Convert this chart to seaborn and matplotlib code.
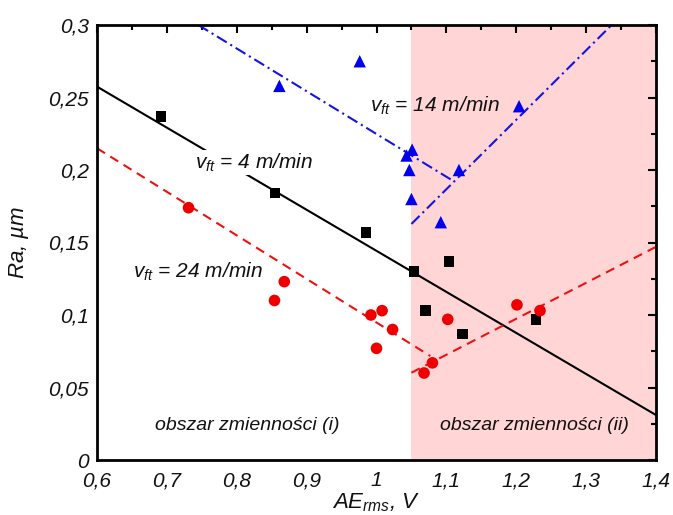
import matplotlib
matplotlib.use("Agg")
import matplotlib.pyplot as plt
import seaborn as sns
from matplotlib.ticker import MultipleLocator, FuncFormatter
from matplotlib import font_manager

sns.set_theme(style="white")

fams = {f.name for f in font_manager.fontManager.ttflist}
FONT = "Liberation Sans Narrow" if "Liberation Sans Narrow" in fams else "Liberation Sans"
plt.rcParams['font.family'] = [FONT, 'DejaVu Sans']
plt.rcParams['mathtext.fontset'] = 'custom'
plt.rcParams['mathtext.it'] = FONT + ':italic'
plt.rcParams['mathtext.rm'] = FONT + ':italic'

# ---- data ----
x_v4 = [0.692, 0.855, 0.985, 1.054, 1.104, 1.070, 1.123, 1.228]
y_v4 = [0.237, 0.184, 0.157, 0.130, 0.137, 0.103, 0.087, 0.097]

x_v24 = [0.731, 0.868, 0.854, 0.992, 1.008, 1.023, 1.000, 1.068, 1.080, 1.102, 1.201, 1.234]
y_v24 = [0.174, 0.123, 0.110, 0.100, 0.103, 0.090, 0.077, 0.060, 0.067, 0.097, 0.107, 0.103]

x_v14 = [0.861, 0.976, 1.051, 1.043, 1.047, 1.050, 1.092, 1.118, 1.204]
y_v14 = [0.258, 0.275, 0.214, 0.210, 0.200, 0.180, 0.164, 0.200, 0.244]

# fitted trend lines (end points)
fit_v4_x = [0.6, 1.4]
fit_v4_y = [0.2575, 0.031]
fit_v24a_x = [0.6, 1.077]
fit_v24a_y = [0.215, 0.0717]
fit_v24b_x = [1.05, 1.4]
fit_v24b_y = [0.0602, 0.147]
fit_v14a_x = [0.745, 1.110]
fit_v14a_y = [0.300, 0.1924]
fit_v14b_x = [1.05, 1.3365]
fit_v14b_y = [0.1628, 0.300]

region_split = 1.05

fig = plt.figure(figsize=(6.73, 5.15), dpi=100)
ax = fig.add_axes([97/673, 1-460/515, (656-97)/673, (460-25)/515])

ax.axvspan(region_split, 1.4, color=(1.0, 0.835, 0.835), zorder=0, lw=0)

RED = "#ee1111"
BLUE = "#1414e6"
dash = (0, (4.5, 3))
dashdot = (0, (5.5, 2, 1, 2))
sns.lineplot(x=fit_v4_x, y=fit_v4_y, ax=ax, color="black", lw=1.5, zorder=2)
sns.lineplot(x=fit_v24a_x, y=fit_v24a_y, ax=ax, color=RED, lw=1.5, zorder=2, linestyle=dash)
sns.lineplot(x=fit_v24b_x, y=fit_v24b_y, ax=ax, color=RED, lw=1.5, zorder=2, linestyle=dash)
sns.lineplot(x=fit_v14a_x, y=fit_v14a_y, ax=ax, color=BLUE, lw=1.5, zorder=2, linestyle=dashdot)
sns.lineplot(x=fit_v14b_x, y=fit_v14b_y, ax=ax, color=BLUE, lw=1.5, zorder=2, linestyle=dashdot)

sns.scatterplot(x=x_v4, y=y_v4, ax=ax, marker="s", s=55, color="black", edgecolor="none", zorder=3)
sns.scatterplot(x=x_v24, y=y_v24, ax=ax, marker="o", s=70, color="#ee0000", edgecolor="none", zorder=3)
sns.scatterplot(x=x_v14, y=y_v14, ax=ax, marker="^", s=80, color="#0000ee", edgecolor="none", zorder=3)

ax.set_xlim(0.6, 1.4)
ax.set_ylim(0, 0.3)

def comma(v, pos):
    s = f"{v:.2f}".rstrip("0").rstrip(".")
    return s.replace(".", ",")

ax.xaxis.set_major_locator(MultipleLocator(0.1))
ax.xaxis.set_minor_locator(MultipleLocator(0.05))
ax.yaxis.set_major_locator(MultipleLocator(0.05))
ax.yaxis.set_minor_locator(MultipleLocator(0.025))
ax.xaxis.set_major_formatter(FuncFormatter(comma))
ax.yaxis.set_major_formatter(FuncFormatter(comma))

ax.tick_params(which="both", direction="in", top=True, right=True, color="black", width=1.5)
ax.tick_params(which="major", length=6, labelsize=15, labelcolor="#111111")
ax.tick_params(axis="x", which="major", pad=8)
ax.tick_params(axis="y", which="major", pad=6)
ax.tick_params(which="minor", length=3.5)
for lab in ax.get_xticklabels() + ax.get_yticklabels():
    lab.set_fontstyle("italic")

for sp in ax.spines.values():
    sp.set_color("black")
    sp.set_linewidth(2)
    sp.set_visible(True)

ax.set_xlabel(r"$AE_{rms}$, V", fontsize=16, fontstyle="italic", labelpad=1, color="#111111")
ax.set_ylabel(r"$Ra$, µm", fontsize=16, fontstyle="italic", labelpad=12, color="#111111")

tk = dict(fontsize=15, fontstyle="italic", color="#111111")
ax.text(0.740, 0.205, r"$v_{ft}$ = 4 m/min", ha="left", va="center", zorder=4,
        bbox=dict(facecolor="white", edgecolor="none", pad=1), **tk)
ax.text(0.990, 0.244, r"$v_{ft}$ = 14 m/min", ha="left", va="center", zorder=4, **tk)
ax.text(0.651, 0.130, r"$v_{ft}$ = 24 m/min", ha="left", va="center", zorder=4, **tk)
ax.text(0.683, 0.024, "obszar zmienności (i)", ha="left", va="center", zorder=4, fontsize=14,
        fontstyle="italic", color="#111111")
ax.text(1.091, 0.024, "obszar zmienności (ii)", ha="left", va="center", zorder=4, fontsize=14,
        fontstyle="italic", color="#111111")

fig.savefig("out.png", dpi=100)
